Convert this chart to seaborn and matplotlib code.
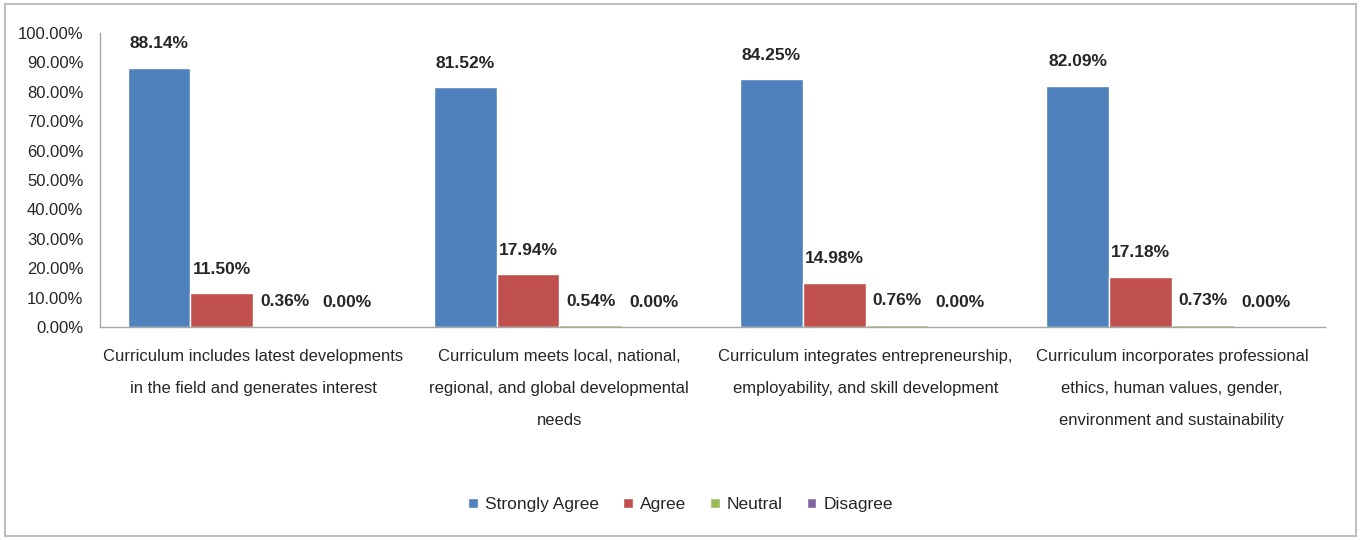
import pandas as pd
import matplotlib.pyplot as plt
import seaborn as sns
from matplotlib.patches import Rectangle
from matplotlib.ticker import FuncFormatter, MultipleLocator

categories = [
    "Curriculum includes latest developments\nin the field and generates interest",
    "Curriculum meets local, national,\nregional, and global developmental\nneeds",
    "Curriculum integrates entrepreneurship,\nemployability, and skill development",
    "Curriculum incorporates professional\nethics, human values, gender,\nenvironment and sustainability",
]
responses = ["Strongly Agree", "Agree", "Neutral", "Disagree"]
strongly_agree = [88.14, 81.52, 84.25, 82.09]
agree = [11.50, 17.94, 14.98, 17.18]
neutral = [0.36, 0.54, 0.76, 0.73]
disagree = [0.00, 0.00, 0.00, 0.00]
colors = ["#4F81BD", "#C0504D", "#9BBB59", "#8064A2"]

# long format for seaborn
rows = []
for resp, vals in zip(responses, [strongly_agree, agree, neutral, disagree]):
    for cat, v in zip(categories, vals):
        rows.append({"Statement": cat, "Response": resp, "Percent": v})
df = pd.DataFrame(rows)

sns.set_style("white")
plt.rcParams['font.family'] = ['Liberation Sans', 'DejaVu Sans']

fig = plt.figure(figsize=(13.61, 5.4), dpi=100)
ax = fig.add_axes([0.0735, 0.3944, 0.90, 0.5445])

sns.barplot(data=df, x="Statement", y="Percent", hue="Response",
            order=categories, hue_order=responses, palette=colors,
            width=0.82, saturation=1, ax=ax, legend=True)

for cont in ax.containers:
    ax.bar_label(cont, fmt="%.2f%%", padding=12, fontsize=12.5, fontweight="bold")

ax.set_ylim(0, 100)
ax.yaxis.set_major_locator(MultipleLocator(10))
ax.yaxis.set_major_formatter(FuncFormatter(lambda v, p: f"{v:.2f}%"))
ax.set_xlabel("")
ax.set_ylabel("")
ax.set_xticks(range(len(categories)))
ax.set_xticklabels(categories)
ax.tick_params(axis="y", labelsize=12, length=0, pad=12)
ax.tick_params(axis="x", labelsize=12, length=0, pad=16)

for side in ["top", "right"]:
    ax.spines[side].set_visible(False)
for side in ["left", "bottom"]:
    ax.spines[side].set_color("#A6A6A6")
    ax.spines[side].set_linewidth(1)

ax.legend_.remove()
handles, labels = ax.get_legend_handles_labels()
fig.legend(handles, labels, loc="center", bbox_to_anchor=(0.5, 0.065), ncol=4,
           frameon=False, fontsize=12.5, handlelength=0.55, handleheight=0.55,
           handletextpad=0.4, columnspacing=1.4)

fig.patches.append(Rectangle((0.004, 0.008), 0.992, 0.984, transform=fig.transFigure,
                             fill=False, edgecolor="#BFBFBF", linewidth=1.5))

# wider line spacing for the wrapped category labels
fig.canvas.draw()
for lbl in ax.get_xticklabels():
    lbl.set_linespacing(2.4)
    lbl.set_multialignment("center")

fig.savefig("out.png", dpi=100)
